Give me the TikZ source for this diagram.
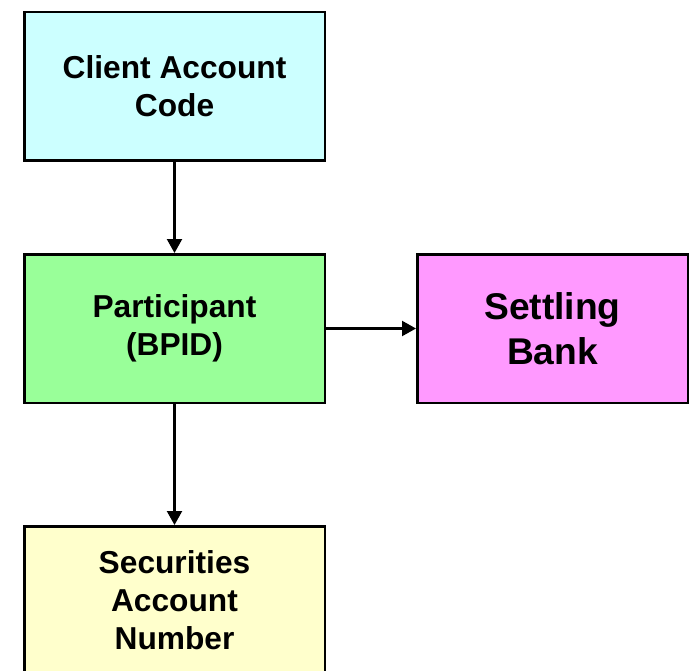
\documentclass[tikz,border=0pt]{standalone}
\usepackage{fontspec}
\setmainfont{Liberation Sans}
\usetikzlibrary{arrows.meta}
\definecolor{boxcyan}{HTML}{CCFFFF}
\definecolor{boxgreen}{HTML}{99FF99}
\definecolor{boxpink}{HTML}{FF99FF}
\definecolor{boxyellow}{HTML}{FFFFCC}
\tikzset{
  box/.style={draw=black, line width=2.5pt, minimum width=300.5pt, minimum height=148.5pt,
    align=center, inner sep=0pt, font=\fontsize{31.7}{38}\selectfont\bfseries},
  link/.style={line width=2.2pt, -{Triangle[length=14pt,width=15pt]}},
}
\begin{document}
\begin{tikzpicture}[x=1pt,y=-1pt]
  \useasboundingbox (0,0) rectangle (690,671);
  \node[box, fill=boxcyan] (client) at (174.5,86.5) {Client Account\\Code};
  \node[box, fill=boxgreen] (part) at (174.5,328.5) {Participant\\(BPID)};
  \node[box, fill=boxpink, minimum width=270.5pt,
        font=\fontsize{37.2}{45}\selectfont\bfseries] (bank) at (552.5,328.5) {Settling\\Bank};
  \node[box, fill=boxyellow] (sec) at (174.5,600.5) {Securities\\Account\\Number};
  \draw[link] (client) -- (part);
  \draw[link] (part) -- (bank);
  \draw[link] (part) -- (sec);
\end{tikzpicture}
\end{document}
